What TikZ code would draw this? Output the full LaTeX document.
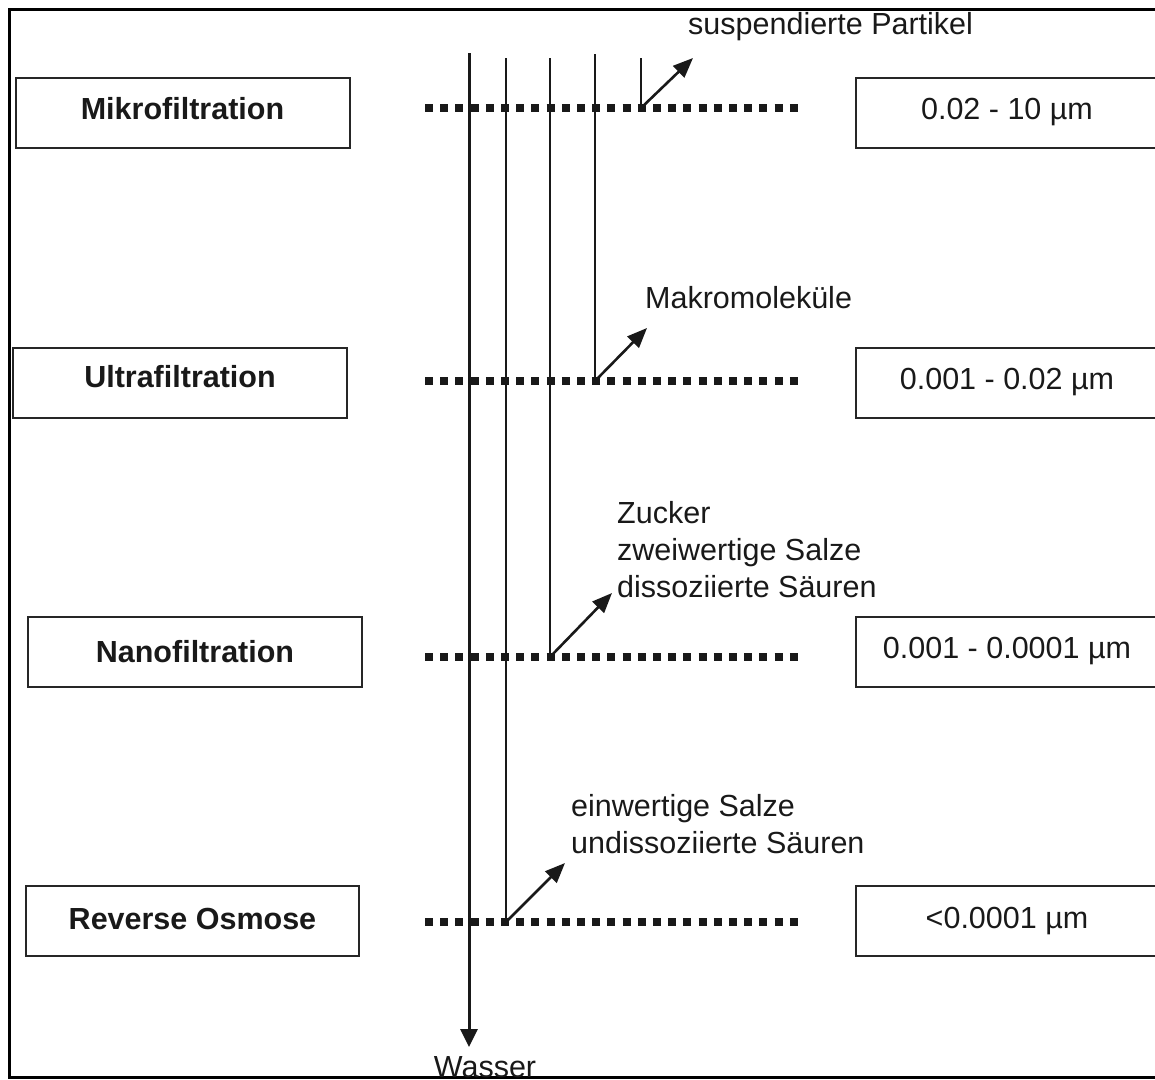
\documentclass[tikz,border=0pt]{standalone}
\usepackage{fontspec}
\setmainfont{Liberation Sans}
\usetikzlibrary{arrows.meta}
\begin{document}
\begin{tikzpicture}[x=1pt,y=-1pt,
  every node/.style={font=\fontsize{30.5}{36.6}\selectfont, inner sep=0pt, text=black!90},
  frame/.style={line width=3pt, black},
  procbox/.style={draw=black!85, line width=2pt, minimum width=334pt, minimum height=70pt,
    font=\fontsize{30.5}{36.6}\selectfont\bfseries},
  rangebox/.style={draw=black!85, line width=2pt, minimum width=302pt, minimum height=70pt},
  membrane/.style={line width=8pt, black!90, dash pattern=on 8pt off 7.2pt},
  water/.style={line width=3pt, black!90, -{Triangle[length=18pt,width=17pt]}},
  pathline/.style={line width=2pt, black!90},
  retained/.style={line width=2.6pt, black!90, -{Triangle[length=20pt,width=16pt]}},
  label/.style={anchor=base west, align=left}
]
\useasboundingbox (0,0) rectangle (1155,1079);
\clip (0,0) rectangle (1155,1079);

% frame
\draw[frame] (1170,9) -- (9,9) -- (9,1077) -- (1170,1077);

% process boxes
\node[procbox, text depth=10pt] (mf) at (182.5,113) {Mikrofiltration};
\node[procbox, text depth=14pt] (uf) at (180,383) {Ultrafiltration};
\node[procbox] (nf) at (195,652) {Nanofiltration};
\node[procbox, minimum width=333pt, text depth=4pt] (ro) at (192.5,921) {Reverse Osmose};

% range boxes
\node[rangebox] (rmf) at (1007,112.5) {0.02 - 10 µm};
\node[rangebox] (ruf) at (1007,382.5) {0.001 - 0.02 µm};
\node[rangebox] (rnf) at (1007,651.5) {0.001 - 0.0001 µm};
\node[rangebox] (rro) at (1007,920.5) {<0.0001 µm};

% membranes
\draw[membrane] (425,108) -- (798,108);
\draw[membrane] (425,381) -- (798,381);
\draw[membrane] (425,657) -- (798,657);
\draw[membrane] (425,922) -- (798,922);

% labels (base = baseline of last line)
\node[label] (lmf) at (688,34) {suspendierte Partikel};
\node[label] (luf) at (645,308) {Makromoleküle};
\node[label] (lnf) at (617,597) {Zucker\\zweiwertige Salze\\dissoziierte Säuren};
\node[label] (lro) at (571,853) {einwertige Salze\\undissoziierte Säuren};
\node[anchor=base] (wasser) at (485,1077) {Wasser};

% coordinates
\coordinate (wtop) at (469,53);
\coordinate (wtip) at (469,1047);
\coordinate (t1) at (641,58);  \coordinate (f1) at (641,108); \coordinate (a1) at (693,58);
\coordinate (t2) at (595,54);  \coordinate (f2) at (595,381); \coordinate (a2) at (647,328);
\coordinate (t3) at (550,58);  \coordinate (f3) at (550,657); \coordinate (a3) at (612,593);
\coordinate (t4) at (506,58);  \coordinate (f4) at (506,922); \coordinate (a4) at (565,863);

% water passes all
\draw[water] (wtop) -- (wtip);

% retained species
\draw[pathline] (t1) -- (f1);
\draw[retained] (f1) -- (a1);
\draw[pathline] (t2) -- (f2);
\draw[retained] (f2) -- (a2);
\draw[pathline] (t3) -- (f3);
\draw[retained] (f3) -- (a3);
\draw[pathline] (t4) -- (f4);
\draw[retained] (f4) -- (a4);
\end{tikzpicture}
\end{document}
